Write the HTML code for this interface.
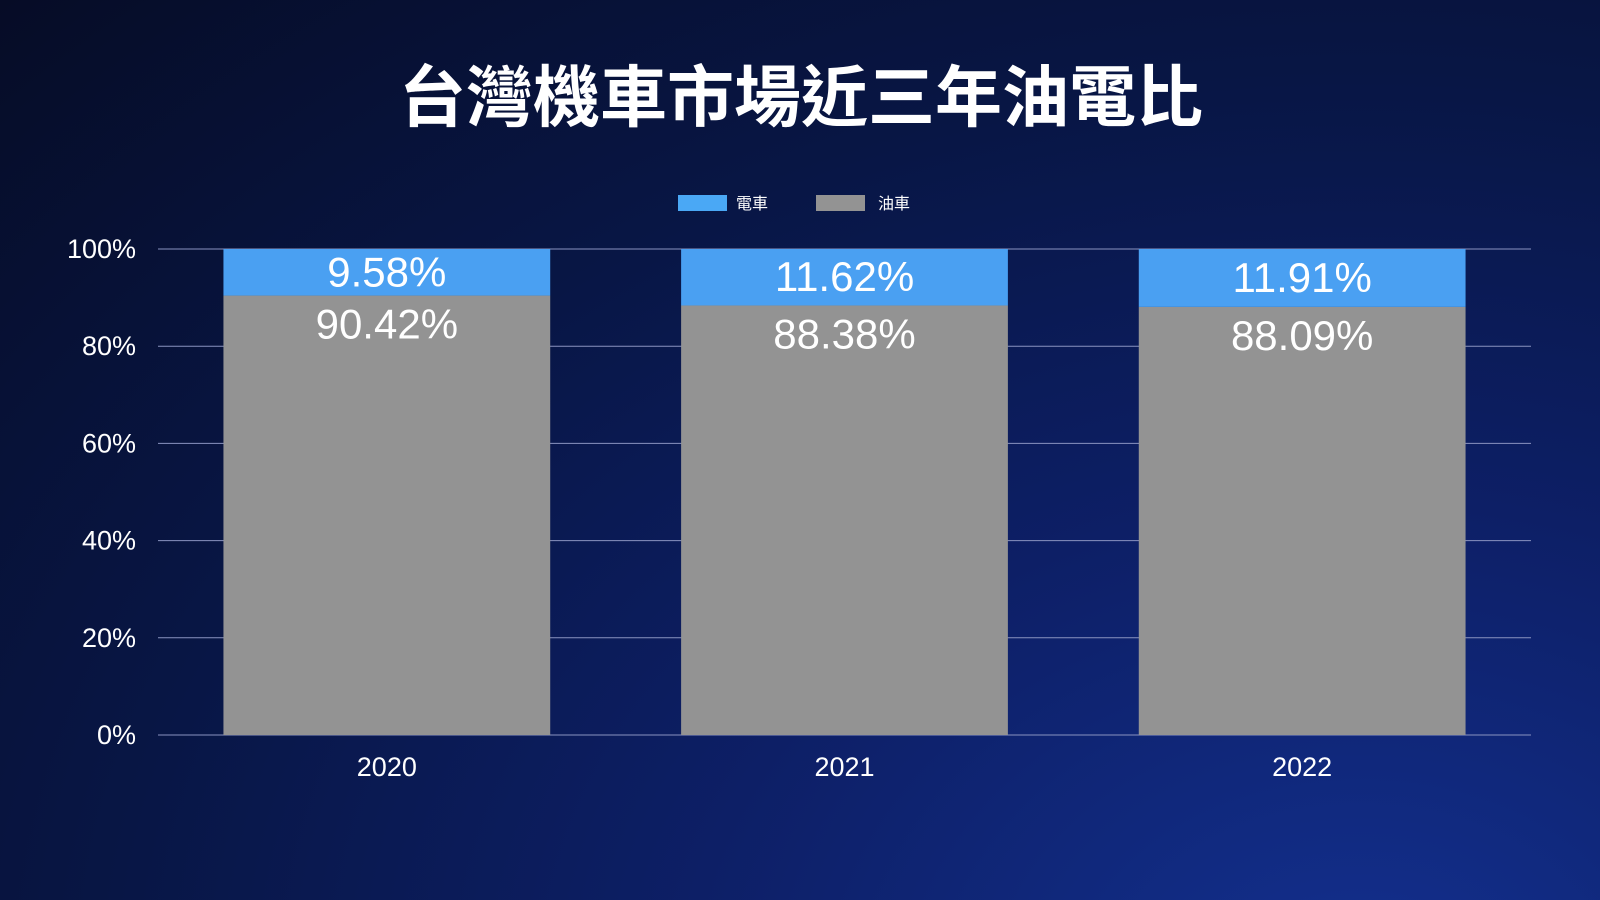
<!DOCTYPE html>
<html><head><meta charset="utf-8"><style>
html,body{margin:0;padding:0;width:1600px;height:900px;overflow:hidden}
body{background:radial-gradient(ellipse at 85% 110%,#13308f 0%,#0d1f66 35%,#081645 65%,#060c26 100%);font-family:"Liberation Sans","Noto Sans CJK TC",sans-serif}
svg{position:absolute;left:0;top:0}
</style></head><body>
<svg id="chart" width="1600" height="900">
<text x="801" y="121" text-anchor="middle" fill="#fff" font-size="67" font-weight="bold" font-family="'Liberation Sans','Noto Sans CJK TC',sans-serif">台灣機車市場近三年油電比</text>
<g>
<rect x="678" y="195" width="49" height="16" fill="#4aa8f5"/>
<text x="736" y="209" fill="#fff" font-size="16" font-family="'Liberation Sans','Noto Sans CJK TC',sans-serif">電車</text>
<rect x="816" y="195" width="49" height="16" fill="#939393"/>
<text x="878" y="209" fill="#fff" font-size="16" font-family="'Liberation Sans','Noto Sans CJK TC',sans-serif">油車</text>
</g>
<g id="grid"></g><g id="bars"></g><g id="labels"></g>
</svg>
<script>
const categories=["2020","2021","2022"];
const gasValues=[90.42,88.38,88.09];
const electricValues=[9.58,11.62,11.91];
const yTicks=[0,20,40,60,80,100];
const ns="http://www.w3.org/2000/svg";
const L=158,R=1531,T=249,B=735;
const y=v=>B-(v/100)*(B-T);
const band=(R-L)/categories.length;
const bw=band*0.714;
const xc=i=>L+band*(i+0.5);
function mk(tag,attrs,parent){const e=document.createElementNS(ns,tag);for(const k in attrs)e.setAttribute(k,attrs[k]);parent.appendChild(e);return e;}
const grid=document.getElementById('grid'),bars=document.getElementById('bars'),labels=document.getElementById('labels');
yTicks.forEach(t=>{
 const l=mk('line',{x1:L,x2:R,y1:y(t),y2:y(t),stroke:'#8a93c0','stroke-width':1},grid);
 
 
 const tx=mk('text',{x:136,y:y(t)+9,'text-anchor':'end',fill:'#fff','font-size':27},grid);
 tx.textContent=t+'%';
 
 
});
categories.forEach((c,i)=>{
 const x0=xc(i)-bw/2;
 const g=gasValues[i],e=electricValues[i];
 const rg=mk('rect',{x:x0,y:y(g),width:bw,height:y(0)-y(g),fill:'#939393'},bars);
 
 
 const re=mk('rect',{x:x0,y:y(g+e),width:bw,height:y(g)-y(g+e),fill:'#4aa0f2'},bars);
 
 
 const te=mk('text',{x:xc(i),y:(y(g)+y(g+e))/2+14,'text-anchor':'middle',fill:'#fff','font-size':42},labels);
 te.textContent=e.toFixed(2)+'%';
 
 
 const tg=mk('text',{x:xc(i),y:y(g)+43,'text-anchor':'middle',fill:'#fff','font-size':42},labels);
 tg.textContent=g.toFixed(2)+'%';
 
 
 const tx=mk('text',{x:xc(i),y:776,'text-anchor':'middle',fill:'#fff','font-size':27},labels);
 tx.textContent=c;
 
 
});
</script>
</body></html>
